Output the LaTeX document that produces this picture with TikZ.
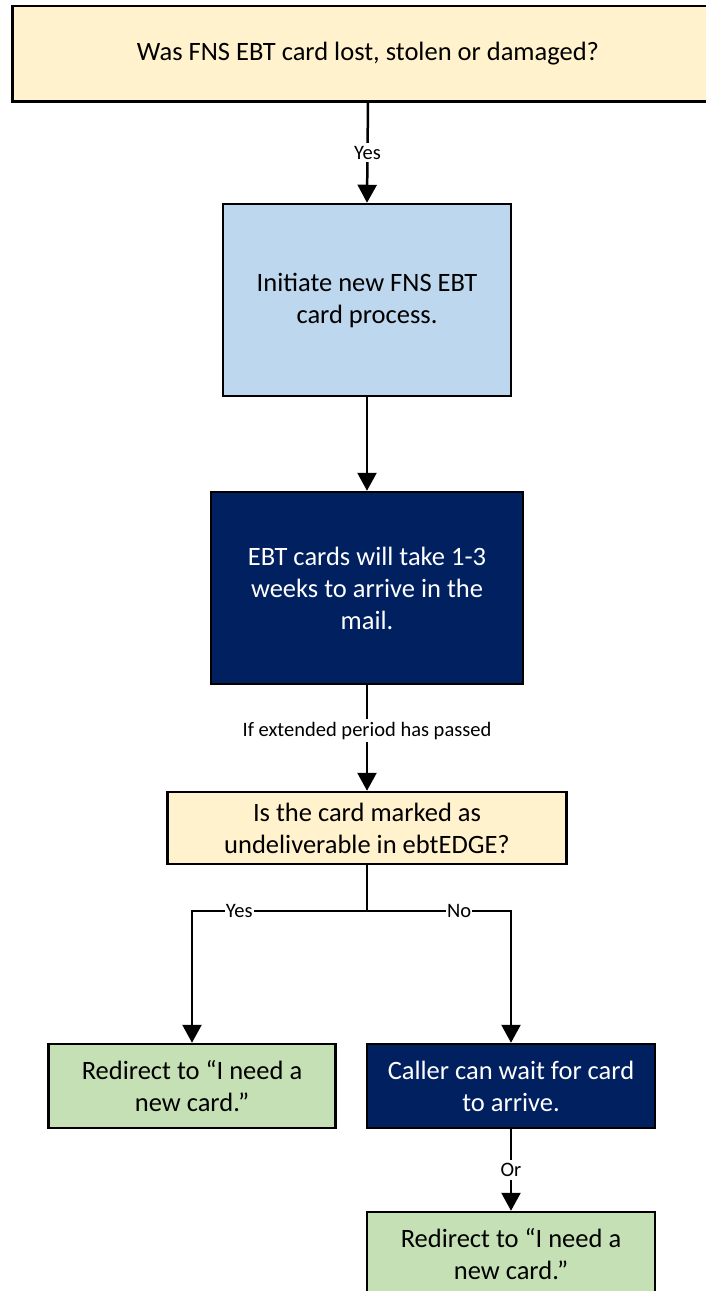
\documentclass[tikz,border=0pt]{standalone}
\usepackage{fontspec}
\setmainfont{Carlito}
\usetikzlibrary{arrows.meta}
\definecolor{yellowbg}{HTML}{FFF2CC}
\definecolor{bluebg}{HTML}{BDD7EE}
\definecolor{navybg}{HTML}{002060}
\definecolor{greenbg}{HTML}{C5E0B4}
\tikzset{
  box/.style={draw=black, line width=2.5pt, align=center, inner sep=4pt,
    font=\fontsize{26.5}{32}\selectfont},
  yellowbox/.style={box, fill=yellowbg, text=black},
  bluebox/.style={box, fill=bluebg, text=black},
  navybox/.style={box, fill=navybg, text=white},
  greenbox/.style={box, fill=greenbg, text=black},
  conn/.style={draw=black, line width=2.5pt, line join=miter},
  arr/.style={conn, -{Triangle[length=18pt,width=19pt]}},
  lbl/.style={fill=white, inner xsep=1pt, inner ysep=3pt, text=black, font=\fontsize{20.5}{24}\selectfont}
}
\begin{document}
\begin{tikzpicture}[x=1pt,y=-1pt]
\useasboundingbox (0,0) rectangle (705,1291);
\node[yellowbox, minimum width=711pt, minimum height=95.5pt] (top) at (368,53.75)
  {Was FNS EBT card lost, stolen or damaged?};
\node[bluebox, minimum width=288pt, minimum height=192pt] (init) at (367,300)
  {Initiate new FNS EBT\\card process.};
\node[navybox, minimum width=312pt, minimum height=192pt] (wait) at (367,588)
  {EBT cards will take 1-3\\weeks to arrive in the\\mail.};
\node[yellowbox, minimum width=399pt, minimum height=72pt] (undel) at (367,828)
  {Is the card marked as\\undeliverable in ebtEDGE?};
\node[greenbox, minimum width=287pt, minimum height=84pt] (redirA) at (192,1086)
  {Redirect to \textquotedblleft I need a\\new card.\textquotedblright};
\node[navybox, minimum width=288pt, minimum height=84pt] (caller) at (511,1086)
  {Caller can wait for card\\to arrive.};
\node[greenbox, minimum width=288pt, minimum height=84pt] (redirB) at (511,1254)
  {Redirect to \textquotedblleft I need a\\new card.\textquotedblright};
\coordinate (br) at (367,911);
\coordinate (bl) at (192,911);
\coordinate (brr) at (511,911);
\draw[arr] (top.south) -- node[lbl]{Yes} (init.north);
\draw[arr] (init.south) -- (wait.north);
\draw[arr] (wait.south) -- node[lbl,pos=0.43]{If extended period has passed} (undel.north);
\draw[conn] (undel.south) -- (br);
\draw[arr] (br) -- node[lbl,pos=0.73]{Yes} (bl) -- (redirA.north);
\draw[arr] (br) -- node[lbl,pos=0.64]{No} (brr) -- (caller.north);
\draw[arr] (caller.south) -- node[lbl]{Or} (redirB.north);
\end{tikzpicture}
\end{document}
